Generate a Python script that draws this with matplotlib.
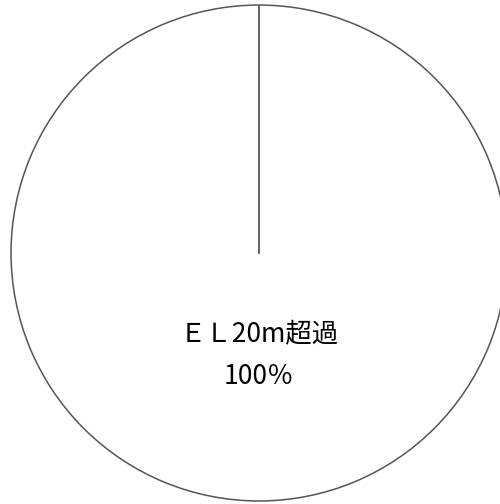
import numpy as np
import matplotlib
matplotlib.use('Agg')
import matplotlib.pyplot as plt

plt.rcParams['font.family'] = ['Noto Sans CJK JP', 'DejaVu Sans']

categories = ['ＥＬ20m超過']
values = [100]

fig = plt.figure(figsize=(5.0, 5.04), dpi=100)
ax = fig.add_axes([0.022, 0.006, 0.992, 0.984])

def fmt(p):
    return f"{categories[0]}\n{p:.0f}％"

wedges, texts, autotexts = ax.pie(
    values, startangle=90, counterclock=False, radius=1.0,
    colors=['white'], autopct=fmt, pctdistance=0.41,
    wedgeprops=dict(edgecolor='#555555', linewidth=1.1),
    textprops=dict(fontsize=19, color='black', linespacing=1.75))

# a full wedge has no visible radial edge, draw it from the wedge's start angle
for w in wedges:
    t = np.deg2rad(w.theta2)
    cx, cy = w.center
    ax.plot([cx, cx + w.r * np.cos(t)], [cy, cy + w.r * np.sin(t)],
            color='#555555', linewidth=1.3)

ax.set_xlim(-1.0, 1.0)
ax.set_ylim(-1.0, 1.0)
ax.set_aspect('equal')
ax.axis('off')

fig.savefig('out.png', dpi=100)
